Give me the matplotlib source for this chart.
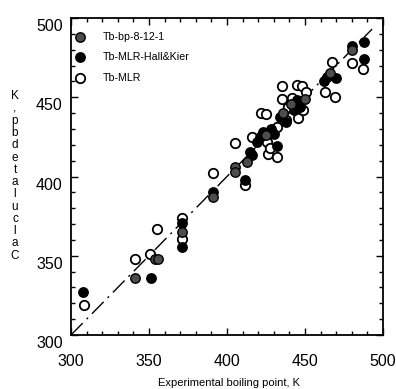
import matplotlib
matplotlib.use("Agg")
import matplotlib.pyplot as plt
import matplotlib.transforms as mtransforms
from matplotlib.ticker import MultipleLocator

plt.rcParams['font.family'] = ['Liberation Sans', 'DejaVu Sans']

# Series: Tb-bp-8-12-1 (hatched/grey)
a_x = [341, 354, 356, 371, 391, 405, 405, 412.6, 425, 436, 441, 450, 466, 480]
a_y = [336, 348, 348, 365, 387, 406, 403, 409, 426, 440, 446, 449, 465, 480]
# Series: Tb-MLR-Hall&Kier (filled black)
b_x = [308, 351, 371, 371, 391, 411.5, 415, 416, 419, 421, 423, 428, 430, 432,
       434, 438, 443, 445, 447, 462, 464, 470, 480, 487.5, 488]
b_y = [327, 336, 370.5, 355.7, 390, 398, 415.6, 413.6, 422, 425, 428, 430, 427, 419,
       437.7, 434.6, 442, 448, 444, 460, 463, 462, 482.5, 485, 474]
# Series: Tb-MLR (open)
c_x = [308.5, 341, 350.6, 355, 371, 371, 391, 405, 411.5, 416, 422, 425, 425.4,
       426.5, 427.6, 432, 432, 435, 435, 438, 439, 441.5, 444.7, 445.7, 448, 448.5,
       450.6, 462.8, 467, 469, 480, 487.4]
c_y = [319, 348, 351, 367, 373.6, 360.4, 402.4, 421.3, 394.6, 425, 440, 439.4, 422,
       414, 418, 412.5, 431.4, 457, 449, 435.6, 444, 449.3, 457.7, 436.7, 457, 442,
       453.5, 453.5, 472.4, 450, 471.4, 467.8]
# Reference line (y = x)
line_x = [300, 493]
line_y = [300, 493]

labels = ["Tb-bp-8-12-1", "Tb-MLR-Hall&Kier", "Tb-MLR"]
xlabel = "Experimental boiling point, K"
ylabel = "Calculated bp, K"

fig = plt.figure(figsize=(3.96, 3.89), dpi=100)
ax = fig.add_axes([71/396, 1-335/389, 312/396, 317/389])

ax.plot(line_x, line_y, color='black', lw=1.0, ls=(0, (12, 4, 1.5, 4)), zorder=1)

ms = 46
hc = ax.scatter(c_x, c_y, s=ms, facecolor='white', edgecolor='black', linewidths=1.3, zorder=2)
hb = ax.scatter(b_x, b_y, s=ms, facecolor='black', edgecolor='black', linewidths=1.0, zorder=3)
ha = ax.scatter(a_x, a_y, s=ms, facecolor='0.3', edgecolor='black', linewidths=1.0, zorder=4)

ax.set_xlim(300, 500)
ax.set_ylim(300, 500)
ax.xaxis.set_major_locator(MultipleLocator(50))
ax.yaxis.set_major_locator(MultipleLocator(50))
ax.xaxis.set_minor_locator(MultipleLocator(10))
ax.yaxis.set_minor_locator(MultipleLocator(10))
ax.tick_params(which='both', direction='in', top=True, right=True, width=1.0)
ax.tick_params(which='major', length=5)
ax.tick_params(which='minor', length=3)
ax.tick_params(axis='x', which='major', pad=14, labelsize=11.5)
ax.tick_params(axis='y', which='major', pad=6, labelsize=11.5)
for sp in ax.spines.values():
    sp.set_linewidth(1.3)

off = mtransforms.ScaledTranslation(0, -7/100, fig.dpi_scale_trans)
for lab in ax.get_yticklabels():
    lab.set_transform(lab.get_transform() + off)

fig.text(229/396, 1-383/389, xlabel, ha='center', va='center', fontsize=8)
stacked = "\n".join(reversed(ylabel.replace(" ", "")))
fig.text(15/396, 1-176/389, stacked, ha='center', va='center', fontsize=8.5, linespacing=1.03)

leg = ax.legend([ha, hb, hc], labels, loc='upper left', bbox_to_anchor=(0.008, 0.957),
                frameon=False, fontsize=7.7, borderaxespad=0, borderpad=0,
                handlelength=1.2, handletextpad=1.5, labelspacing=0.98, scatterpoints=1)

fig.savefig("out.png", dpi=100)
